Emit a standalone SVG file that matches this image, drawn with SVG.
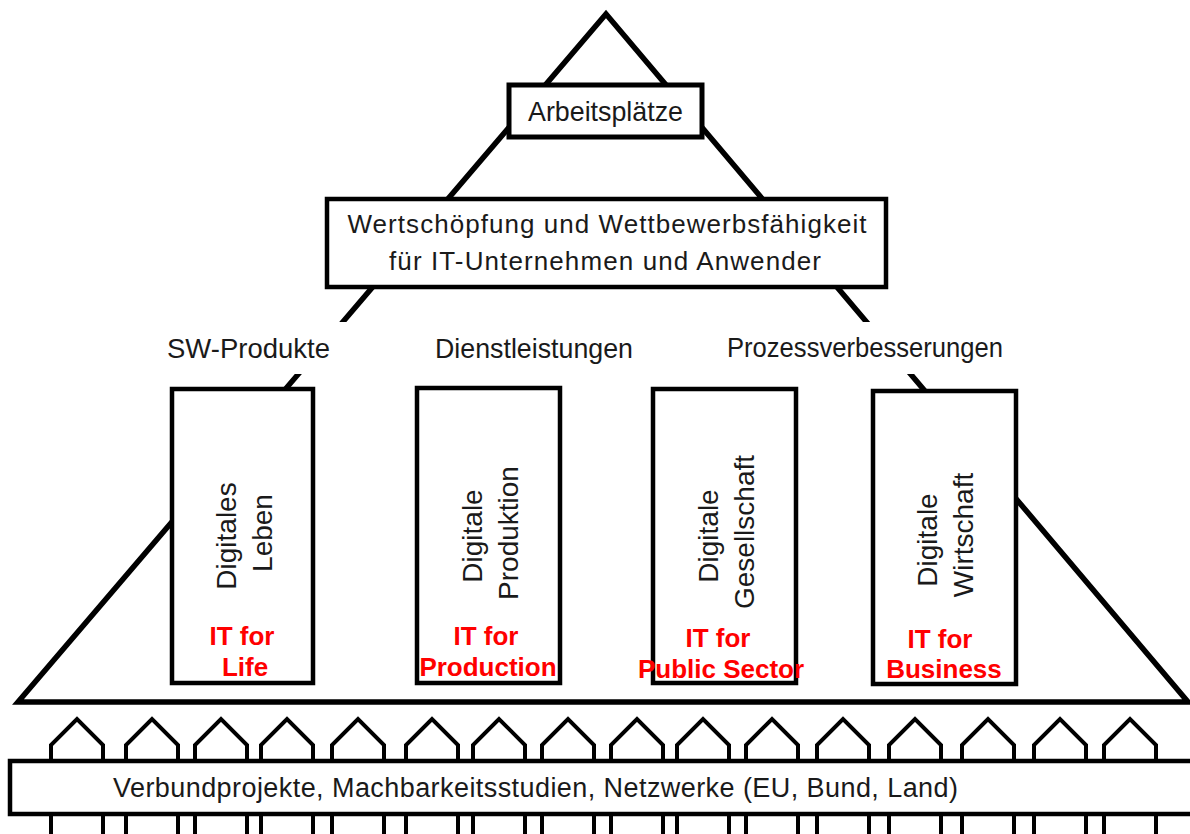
<svg xmlns="http://www.w3.org/2000/svg" width="1190" height="834" viewBox="0 0 1190 834">
<style>
.frame{fill:none;stroke:#000;stroke-width:5.5;stroke-linejoin:miter}
.box{fill:#fff;stroke:#000;stroke-width:4.5}
.t{font-family:"Liberation Sans",Arial,sans-serif;fill:#1a1a1a;font-size:27px}
.tc{text-anchor:middle}
.rot{font-size:28px}
.red{font-family:"Liberation Sans",Arial,sans-serif;fill:#ff0000;font-size:26px;font-weight:bold;text-anchor:middle}
.pk{fill:#fff;stroke:#000;stroke-width:4;stroke-linejoin:miter}
</style>
<defs>
<path id="picket" d="M-26,850 V745 L0,719 L26,745 V850"/>
</defs>
<rect x="0" y="0" width="1190" height="834" fill="#fff"/>

<g id="pyramid-frame">
<polygon class="frame" points="606,14 1188,702 18,702"/>
<rect x="150" y="322" width="900" height="52" fill="#fff"/>
</g>

<g id="pillar-leben">
<rect class="box" x="172" y="389" width="141" height="294"/>
<text class="t tc rot" transform="translate(236,536) rotate(-90)">Digitales</text>
<text class="t tc rot" transform="translate(272,533) rotate(-90)">Leben</text>
<text class="red" x="242" y="645">IT for</text>
<text class="red" x="245" y="676">Life</text>
</g>

<g id="pillar-produktion">
<rect class="box" x="417" y="388" width="143" height="295"/>
<text class="t tc rot" transform="translate(482,536) rotate(-90)">Digitale</text>
<text class="t tc rot" transform="translate(518,533) rotate(-90)">Produktion</text>
<text class="red" x="486" y="645">IT for</text>
<text class="red" x="488" y="676">Production</text>
</g>

<g id="pillar-gesellschaft">
<rect class="box" x="653" y="389" width="143" height="294"/>
<text class="t tc rot" transform="translate(718,536) rotate(-90)">Digitale</text>
<text class="t tc rot" transform="translate(754,532) rotate(-90)">Gesellschaft</text>
<text class="red" x="718" y="647">IT for</text>
<text class="red" x="721" y="678">Public Sector</text>
</g>

<g id="pillar-wirtschaft">
<rect class="box" x="873" y="391" width="143" height="293"/>
<text class="t tc rot" transform="translate(937,540) rotate(-90)">Digitale</text>
<text class="t tc rot" transform="translate(973,535) rotate(-90)">Wirtschaft</text>
<text class="red" x="940" y="648">IT for</text>
<text class="red" x="944" y="678">Business</text>
</g>

<g id="arbeitsplaetze">
<rect class="box" x="509" y="85" width="193" height="52" style="stroke-width:5"/>
<text class="t tc" x="605.5" y="121" style="font-size:28px" textLength="155" lengthAdjust="spacingAndGlyphs">Arbeitsplätze</text>
</g>

<g id="wertschoepfung">
<rect class="box" x="327" y="199" width="559" height="88"/>
<text class="t tc" x="607" y="233" style="font-size:26px" textLength="519" lengthAdjust="spacing">Wertschöpfung und Wettbewerbsfähigkeit</text>
<text class="t tc" x="605" y="270" style="font-size:26px" textLength="432" lengthAdjust="spacing">für IT-Unternehmen und Anwender</text>
</g>

<g id="label-sw-produkte">
<text class="t" x="167" y="358" style="font-size:28px" textLength="163" lengthAdjust="spacingAndGlyphs">SW-Produkte</text>
</g>
<g id="label-dienstleistungen">
<text class="t" x="435" y="358" style="font-size:28px" textLength="198" lengthAdjust="spacingAndGlyphs">Dienstleistungen</text>
</g>
<g id="label-prozessverbesserungen">
<text class="t" x="727" y="357" style="font-size:28px" textLength="276" lengthAdjust="spacingAndGlyphs">Prozessverbesserungen</text>
</g>

<g id="fence-pickets" class="pk">
<use href="#picket" x="77"/>
<use href="#picket" x="152"/>
<use href="#picket" x="221"/>
<use href="#picket" x="287"/>
<use href="#picket" x="358"/>
<use href="#picket" x="432"/>
<use href="#picket" x="499"/>
<use href="#picket" x="568"/>
<use href="#picket" x="637"/>
<use href="#picket" x="703"/>
<use href="#picket" x="772"/>
<use href="#picket" x="843"/>
<use href="#picket" x="915"/>
<use href="#picket" x="988"/>
<use href="#picket" x="1060"/>
<use href="#picket" x="1130"/>
</g>

<g id="verbundprojekte">
<rect class="box" x="10" y="761" width="1190" height="53"/>
<text class="t" x="113" y="797" textLength="845" lengthAdjust="spacing">Verbundprojekte, Machbarkeitsstudien, Netzwerke (EU, Bund, Land)</text>
</g>
</svg>
